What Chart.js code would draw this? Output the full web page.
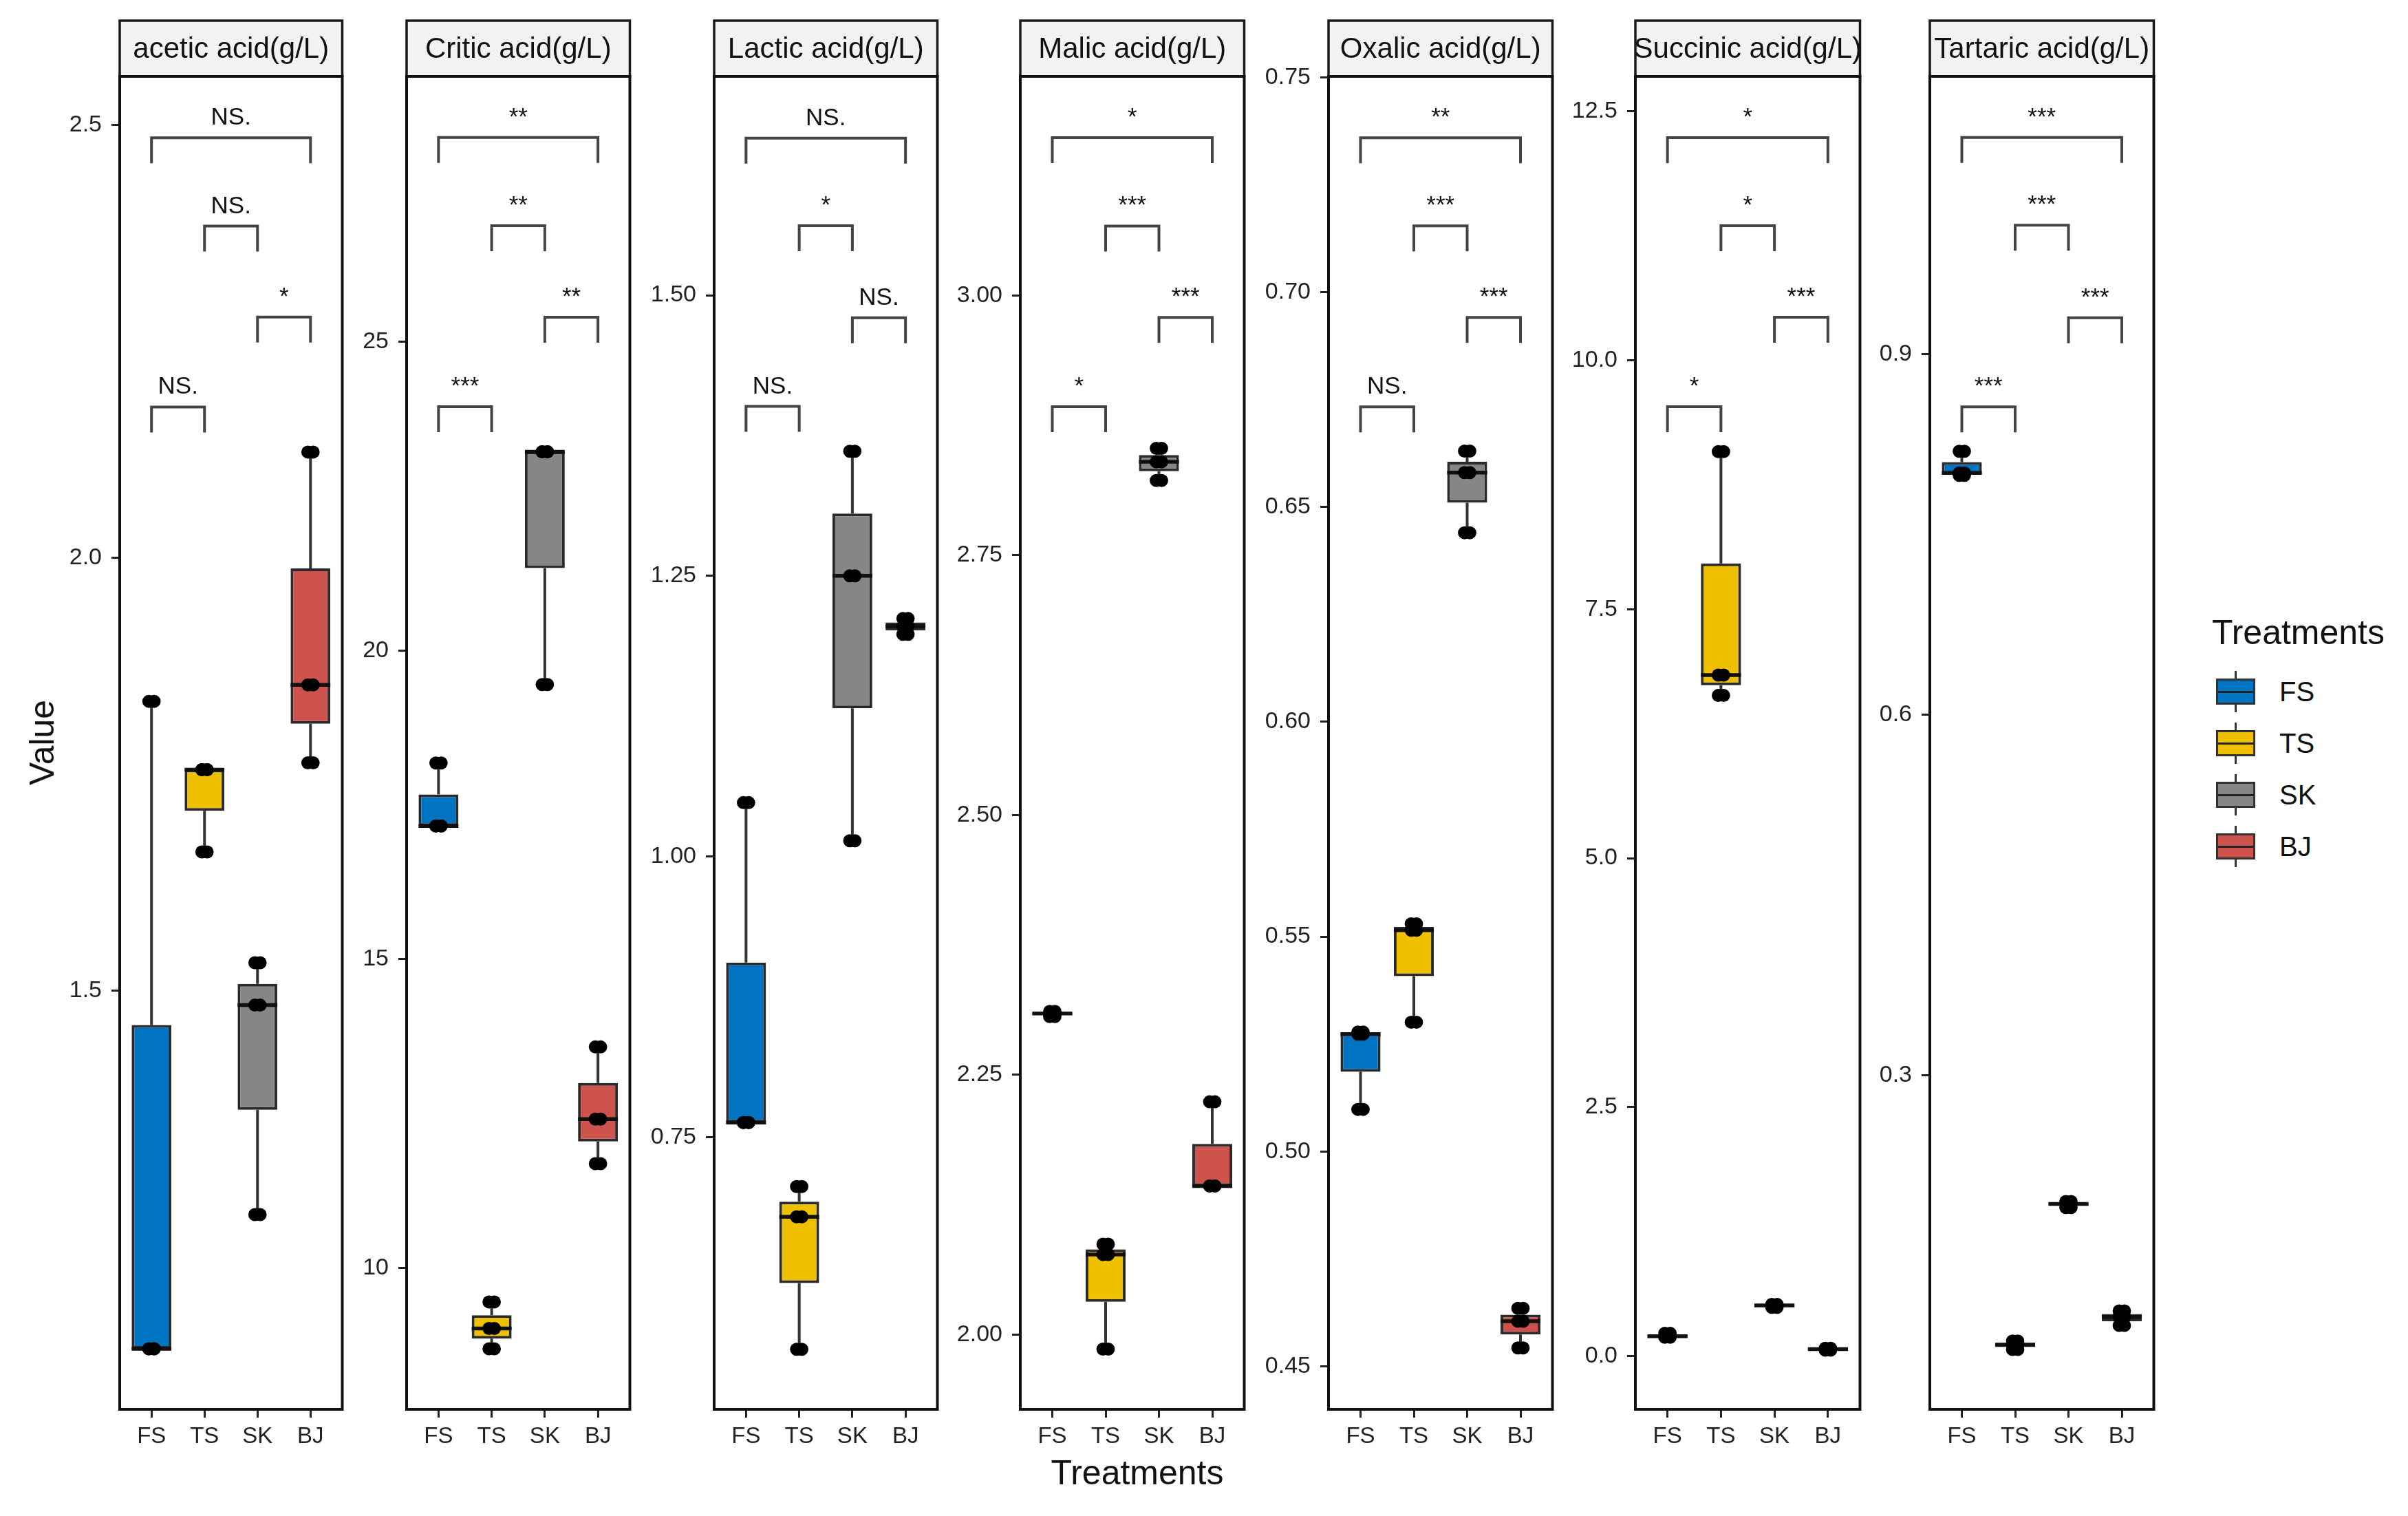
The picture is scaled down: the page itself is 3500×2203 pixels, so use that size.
<!DOCTYPE html>
<html>
<head>
<meta charset="utf-8">
<script src="https://cdn.jsdelivr.net/npm/chart.js@4.4.1/dist/chart.umd.min.js"></script>
<style>
  html, body { margin: 0; padding: 0; background: #fff; }
  #wrap { position: relative; width: 3500px; height: 2203px; overflow: hidden;
          font-family: "Liberation Sans", Arial, sans-serif; color: #111; }
  #wrap canvas { position: absolute; top: 0; }
  .lbl { position: absolute; white-space: nowrap; line-height: 1; }
  .key { position: absolute; width: 57px; height: 38px; box-sizing: border-box; border: 3px solid #333; }
  .key::after { content: ""; position: absolute; left: 0; right: 0; top: 50%; height: 3px; margin-top: -1.5px; background: #222; }
  .whisk { position: absolute; width: 3px; background: #333; }
</style>
</head>
<body>
<div id="wrap"></div>
<script>
// ---- data ----
const groups = ["FS", "TS", "SK", "BJ"];
const groupColors = ["#0073C2", "#EFC000", "#868686", "#CD534C"];
const panelTitles = ["acetic acid(g/L)", "Critic acid(g/L)", "Lactic acid(g/L)", "Malic acid(g/L)",
                     "Oxalic acid(g/L)", "Succinic acid(g/L)", "Tartaric acid(g/L)"];

// three replicates per treatment, order FS, TS, SK, BJ
const acetic   = [[1.086, 1.086, 1.834], [1.660, 1.755, 1.755], [1.241, 1.483, 1.532], [1.763, 1.853, 2.122]];
const critic   = [[17.16, 17.16, 18.18], [8.69, 9.02, 9.45], [19.45, 23.22, 23.22], [11.69, 12.41, 13.58]];
const lactic   = [[0.763, 0.763, 1.048], [0.561, 0.679, 0.706], [1.014, 1.250, 1.361], [1.198, 1.205, 1.212]];
const malic    = [[2.306, 2.309, 2.311], [1.986, 2.077, 2.087], [2.822, 2.840, 2.853], [2.143, 2.143, 2.224]];
const oxalic   = [[0.5098, 0.5273, 0.5278], [0.5301, 0.5515, 0.5530], [0.644, 0.658, 0.663], [0.4543, 0.4605, 0.4635]];
const succinic = [[0.19, 0.20, 0.23], [6.634, 6.838, 9.082], [0.49, 0.51, 0.52], [0.06, 0.07, 0.08]];
const tartaric = [[0.799, 0.801, 0.819], [0.072, 0.076, 0.079], [0.190, 0.193, 0.195], [0.092, 0.099, 0.104]];

const ticksAcetic   = ["1.5", "2.0", "2.5"];
const ticksCritic   = ["10", "15", "20", "25"];
const ticksLactic   = ["0.75", "1.00", "1.25", "1.50"];
const ticksMalic    = ["2.00", "2.25", "2.50", "2.75", "3.00"];
const ticksOxalic   = ["0.45", "0.50", "0.55", "0.60", "0.65", "0.70", "0.75"];
const ticksSuccinic = ["0.0", "2.5", "5.0", "7.5", "10.0", "12.5"];
const ticksTartaric = ["0.3", "0.6", "0.9"];

const yMin = [1.016, 7.71, 0.5075, 1.928, 0.440, -0.534, 0.0222];
const yMax = [2.556, 29.30, 1.695, 3.211, 0.7502, 12.85, 1.1308];

// significance brackets: FS-BJ, TS-SK, SK-BJ, FS-TS
const sigPairs = [[1, 4], [2, 3], [3, 4], [1, 2]];
const sigAcetic   = ["NS.", "NS.", "*", "NS."];
const sigCritic   = ["**", "**", "**", "***"];
const sigLactic   = ["NS.", "*", "NS.", "NS."];
const sigMalic    = ["*", "***", "***", "*"];
const sigOxalic   = ["**", "***", "***", "NS."];
const sigSuccinic = ["*", "*", "***", "*"];
const sigTartaric = ["***", "***", "***", "***"];

const levAcetic   = [2.485, 2.383, 2.278, 2.174];
const levCritic   = [28.31, 26.88, 25.40, 23.95];
const levLactic   = [1.640, 1.562, 1.480, 1.401];
const levMalic    = [3.152, 3.067, 2.979, 2.893];
const levOxalic   = [0.7359, 0.7154, 0.6941, 0.6733];
const levSuccinic = [12.235, 11.35, 10.431, 9.533];
const levTartaric = [1.080, 1.007, 0.930, 0.856];

const panelValues = [acetic, critic, lactic, malic, oxalic, succinic, tartaric];
const panelTicks  = [ticksAcetic, ticksCritic, ticksLactic, ticksMalic, ticksOxalic, ticksSuccinic, ticksTartaric];
const panelSig    = [sigAcetic, sigCritic, sigLactic, sigMalic, sigOxalic, sigSuccinic, sigTartaric];
const panelLev    = [levAcetic, levCritic, levLactic, levMalic, levOxalic, levSuccinic, levTartaric];

// ---- layout ----
const H = 2203, AXW = 110, PADR = 6;
const STRIP_TOP = 30, PLOT_TOP = 111, PLOT_BOTTOM = 2048;
const PANEL_L = [174, 591, 1038, 1483, 1931, 2377, 2805];
const PANEL_R = [501, 919, 1366, 1812, 2260, 2707, 3134];
const TIP = 37;
const JIT = [-0.05, 0.05];
const FONT = '"Liberation Sans", Arial, sans-serif';

function quant(s, p) {
  const h = (s.length - 1) * p, lo = Math.floor(h), hi = Math.min(lo + 1, s.length - 1);
  return s[lo] + (h - lo) * (s[hi] - s[lo]);
}
function boxStats(vals) {
  const s = [...vals].sort((a, b) => a - b);
  return { min: s[0], q1: quant(s, 0.25), med: quant(s, 0.5), q3: quant(s, 0.75), max: s[s.length - 1] };
}

const wrap = document.getElementById("wrap");

function makePanel(p) {
  const stats = panelValues[p].map(boxStats);
  const tickStr = panelTicks[p];
  const tickVal = tickStr.map(parseFloat);
  const w = PANEL_R[p] - PANEL_L[p] + AXW + PADR;

  const cv = document.createElement("canvas");
  cv.width = w; cv.height = H;
  cv.style.left = (PANEL_L[p] - AXW) + "px";
  cv.style.width = w + "px"; cv.style.height = H + "px";
  wrap.appendChild(cv);

  const pts = [];
  panelValues[p].forEach((vals, i) => vals.forEach(v => JIT.forEach(d => pts.push({ x: i + 1 + d, y: v }))));

  const parts = {
    id: "boxParts" + p,
    beforeDatasetsDraw(chart) {
      const { ctx, scales: { x, y } } = chart;
      ctx.save();
      ctx.strokeStyle = "#333"; ctx.lineWidth = 4;
      stats.forEach((s, i) => {
        const cx = x.getPixelForValue(i + 1);
        ctx.beginPath();
        ctx.moveTo(cx, y.getPixelForValue(s.max)); ctx.lineTo(cx, y.getPixelForValue(s.q3));
        ctx.moveTo(cx, y.getPixelForValue(s.q1)); ctx.lineTo(cx, y.getPixelForValue(s.min));
        ctx.stroke();
      });
      ctx.restore();
    },
    afterDatasetDraw(chart, args) {
      if (args.index !== 0) return;
      const { ctx, scales: { x, y } } = chart;
      ctx.save();
      ctx.strokeStyle = "#111"; ctx.lineWidth = 5.5;
      stats.forEach((s, i) => {
        const yy = y.getPixelForValue(s.med);
        ctx.beginPath();
        ctx.moveTo(x.getPixelForValue(i + 1 - 0.375), yy);
        ctx.lineTo(x.getPixelForValue(i + 1 + 0.375), yy);
        ctx.stroke();
      });
      ctx.restore();
    },
    afterDraw(chart) {
      const { ctx, chartArea: a, scales: { x, y } } = chart;
      ctx.save();
      // significance brackets
      ctx.strokeStyle = "#444"; ctx.lineWidth = 4;
      ctx.fillStyle = "#111"; ctx.font = "35px " + FONT;
      ctx.textAlign = "center"; ctx.textBaseline = "alphabetic";
      sigPairs.forEach((pr, k) => {
        const x1 = x.getPixelForValue(pr[0]), x2 = x.getPixelForValue(pr[1]);
        const yy = y.getPixelForValue(panelLev[p][k]);
        ctx.beginPath();
        ctx.moveTo(x1, yy + TIP); ctx.lineTo(x1, yy); ctx.lineTo(x2, yy); ctx.lineTo(x2, yy + TIP);
        ctx.stroke();
        ctx.fillText(panelSig[p][k], (x1 + x2) / 2, yy - 19);
      });
      // strip
      ctx.fillStyle = "#F2F2F2";
      ctx.fillRect(a.left, STRIP_TOP, a.right - a.left, PLOT_TOP - STRIP_TOP);
      ctx.strokeStyle = "#1a1a1a"; ctx.lineWidth = 3.5;
      ctx.strokeRect(a.left, STRIP_TOP, a.right - a.left, PLOT_TOP - STRIP_TOP);
      ctx.fillStyle = "#111"; ctx.font = "42px " + FONT; ctx.textBaseline = "middle";
      ctx.fillText(panelTitles[p], (a.left + a.right) / 2, (STRIP_TOP + PLOT_TOP) / 2 + 2);
      // panel border
      ctx.strokeStyle = "#111"; ctx.lineWidth = 4;
      ctx.strokeRect(a.left, a.top, a.right - a.left, a.bottom - a.top);
      ctx.restore();
    }
  };

  new Chart(cv, {
    type: "bar",
    data: {
      datasets: [
        {
          type: "bar", order: 2,
          data: stats.map((s, i) => ({ x: i + 1, y: [s.q1, s.q3] })),
          backgroundColor: groupColors, borderColor: "#2a2a2a", borderWidth: 4,
          borderSkipped: false, barPercentage: 0.75, categoryPercentage: 1
        },
        {
          type: "scatter", order: 1, data: pts, showLine: false,
          pointRadius: 9.5, pointHoverRadius: 9.5, backgroundColor: "#000", borderWidth: 0
        }
      ]
    },
    options: {
      responsive: false, animation: false, devicePixelRatio: 1,
      layout: { padding: { top: PLOT_TOP, right: PADR, left: 0, bottom: 0 } },
      plugins: { legend: { display: false }, tooltip: { enabled: false } },
      scales: {
        x: {
          type: "linear", min: 0.4, max: 4.6, offset: false, bounds: "data",
          afterBuildTicks: s => { s.ticks = groups.map((g, i) => ({ value: i + 1 })); },
          afterFit: s => { s.height = H - PLOT_BOTTOM; },
          ticks: { autoSkip: false, maxRotation: 0, padding: 8, color: "#222",
                   font: { size: 33, family: FONT }, callback: v => groups[v - 1] },
          grid: { display: true, offset: false, drawOnChartArea: false, drawTicks: true,
                  tickLength: 12, color: "#222", lineWidth: 3 },
          border: { display: false }
        },
        y: {
          type: "linear", min: yMin[p], max: yMax[p], beginAtZero: false, bounds: "data",
          afterBuildTicks: s => { s.ticks = tickVal.map(v => ({ value: v })); },
          afterFit: s => { s.width = AXW; },
          ticks: { autoSkip: false, padding: 14, color: "#222",
                   font: { size: 34, family: FONT }, callback: v => tickStr[tickVal.indexOf(v)] },
          grid: { display: true, drawOnChartArea: false, drawTicks: true,
                  tickLength: 12, color: "#222", lineWidth: 3 },
          border: { display: false }
        }
      }
    },
    plugins: [parts]
  });
}

for (let p = 0; p < panelTitles.length; p++) makePanel(p);

// ---- axis titles and legend ----
function label(text, x, y, size, extra) {
  const d = document.createElement("div");
  d.className = "lbl";
  d.textContent = text;
  d.style.fontSize = size + "px";
  d.style.left = x + "px"; d.style.top = y + "px";
  d.style.transform = extra || "translate(0,-50%)";
  wrap.appendChild(d);
  return d;
}
label("Value", 61, 1079, 50, "translate(-50%,-50%) rotate(-90deg)");
label("Treatments", 1653, 2140, 50, "translate(-50%,-50%)");
label("Treatments", 3215, 919, 50);

const legendY = [1005, 1080, 1155, 1230];
groups.forEach((g, i) => {
  const wk = document.createElement("div");
  wk.className = "whisk";
  wk.style.left = (3221 + 27) + "px"; wk.style.top = (legendY[i] - 30) + "px"; wk.style.height = "60px";
  wrap.appendChild(wk);
  const k = document.createElement("div");
  k.className = "key";
  k.style.left = "3221px"; k.style.top = (legendY[i] - 19) + "px";
  k.style.background = groupColors[i];
  wrap.appendChild(k);
  label(g, 3313, legendY[i], 40);
});
</script>
</body>
</html>
